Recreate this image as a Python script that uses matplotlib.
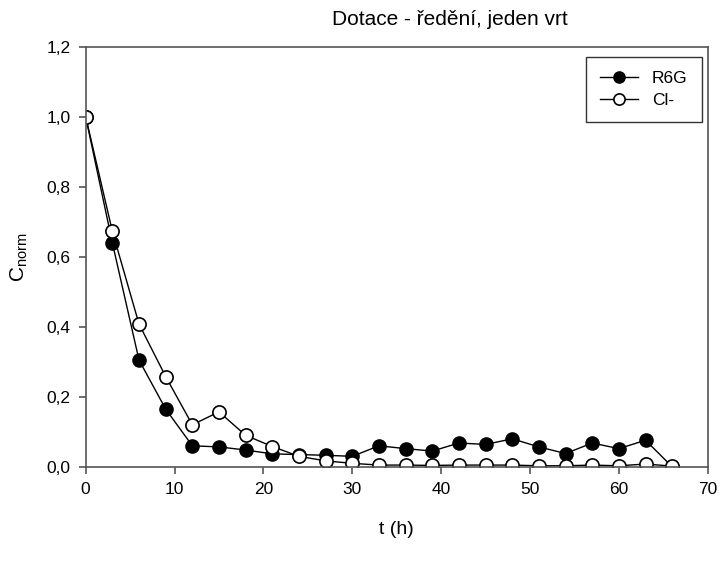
import numpy as np
import matplotlib
matplotlib.use("Agg")
import matplotlib.pyplot as plt
from matplotlib.ticker import FuncFormatter, MultipleLocator

plt.rcParams["font.family"] = ["Liberation Sans", "DejaVu Sans"]
plt.rcParams["mathtext.fontset"] = "custom"
plt.rcParams["mathtext.rm"] = "Liberation Sans"

# sampling times (h)
t = [0, 3, 6, 9, 12, 15, 18, 21, 24, 27, 30, 33, 36, 39, 42, 45, 48, 51, 54, 57, 60, 63, 66]

# normalised concentrations
r6g = [1.0, 0.64, 0.305, 0.165, 0.06, 0.057, 0.048, 0.037, 0.035, 0.033, 0.03,
       0.06, 0.052, 0.045, 0.068, 0.064, 0.08, 0.057, 0.038, 0.068, 0.052, 0.076, 0.0]
cl = [1.0, 0.673, 0.408, 0.258, 0.12, 0.157, 0.09, 0.058, 0.03, 0.017, 0.01,
      0.005, 0.005, 0.004, 0.005, 0.005, 0.005, 0.003, 0.003, 0.005, 0.003, 0.008, 0.002]

fig = plt.figure(figsize=(7.2, 5.7), dpi=100)
ax = fig.add_axes([0.119, 0.181, 0.864, 0.737])

ax.plot(t, r6g, "-o", color="black", lw=1, markersize=9.5,
        markerfacecolor="black", markeredgecolor="black", label="R6G")
ax.plot(t, cl, "-o", color="black", lw=1, markersize=9.5,
        markerfacecolor="white", markeredgecolor="black", markeredgewidth=1.2, label="Cl-")

ax.set_xlim(0, 70)
ax.set_ylim(0, 1.2)
ax.xaxis.set_major_locator(MultipleLocator(10))
ax.yaxis.set_major_locator(MultipleLocator(0.2))
ax.yaxis.set_major_formatter(FuncFormatter(lambda v, p: f"{v:.1f}".replace(".", ",")))

for s in ax.spines.values():
    s.set_color("#555555")
    s.set_linewidth(1.2)
ax.tick_params(direction="out", length=5, width=1.2, color="#555555",
               labelsize=12.5, pad=6)

# title sits right of the axes centre
ax.text(0.585, 1.0 + 27 / 420, "Dotace - ředění, jeden vrt", transform=ax.transAxes,
        ha="center", va="center", fontsize=15)
ax.set_xlabel("t (h)", fontsize=14, labelpad=17)
ax.set_ylabel(r"C$_{\rm norm}$", fontsize=15, labelpad=12)

leg = ax.legend(loc="upper right", bbox_to_anchor=(0.990, 0.976), fancybox=False,
                edgecolor="black", fontsize=12.5, handlelength=2.2,
                borderpad=0.8, labelspacing=0.4, markerscale=0.85,
                borderaxespad=0)
leg.get_frame().set_linewidth(1.0)

fig.savefig("out.png", dpi=100)
